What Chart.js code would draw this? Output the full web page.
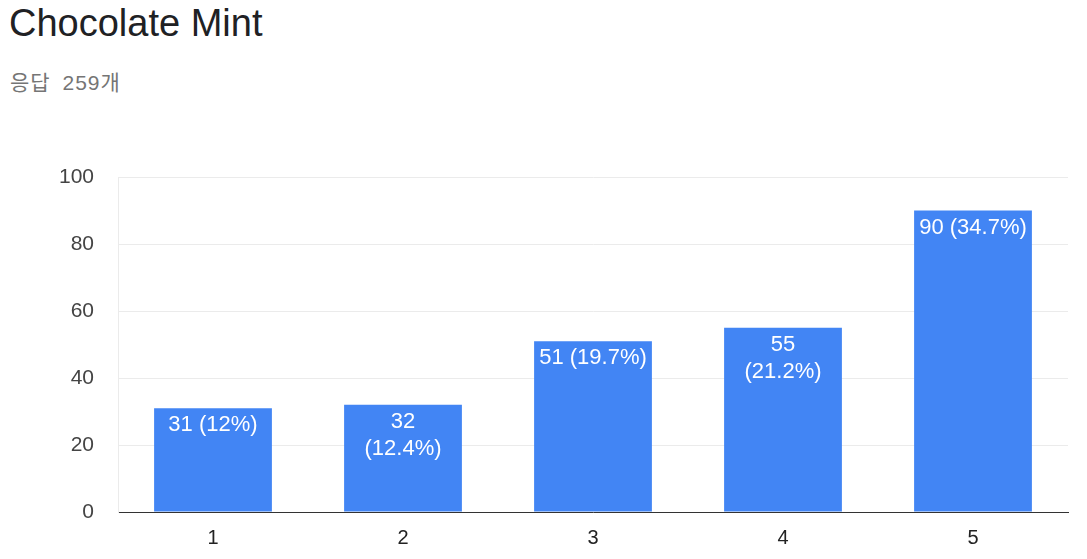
<!DOCTYPE html>
<html>
<head>
<meta charset="utf-8">
<script src="https://cdn.jsdelivr.net/npm/chart.js@4"></script>
<style>
  body { margin: 0; background: #fff; width: 1087px; height: 559px; overflow: hidden; position: relative; }
  #title { position: absolute; left: 9px; top: 5px; line-height: 36px; font-family: "Liberation Sans", Arial, sans-serif; font-size: 38px; color: #202124; }
  #sub { position: absolute; left: 10px; top: 70px; line-height: 26px; font-family: "Liberation Sans", "Noto Sans CJK KR", sans-serif; font-size: 21px; letter-spacing: 1px; word-spacing: 5px; color: #757575; }
  #wrap { position: absolute; left: 0; top: 0; width: 1087px; height: 559px; }
</style>
</head>
<body>
<div id="title">Chocolate Mint</div>
<div id="sub">응답 259개</div>
<div id="wrap"><canvas id="myChart"></canvas></div>
<script>
// answers 1..5 and their counts
const categories = ['1', '2', '3', '4', '5'];
const counts = [31, 32, 51, 55, 90];
// label text inside each bar (some wrap to two lines like the original)
const barLabels = [
    ['31 (12%)'],
    ['32', '(12.4%)'],
    ['51 (19.7%)'],
    ['55', '(21.2%)'],
    ['90 (34.7%)']
];
const yTicks = [0, 20, 40, 60, 80, 100];

const insideLabels = {
    id: 'insideLabels',
    afterDatasetsDraw(chart) {
        const ctx = chart.ctx;
        const meta = chart.getDatasetMeta(0);
        ctx.save();
        ctx.fillStyle = '#ffffff';
        ctx.font = '22px "Liberation Sans", Arial, sans-serif';
        ctx.textAlign = 'center';
        ctx.textBaseline = 'middle';
        meta.data.forEach((bar, i) => {
            barLabels[i].forEach((line, j) => {
                ctx.fillText(line, bar.x, bar.y + 17 + j * 27);
            });
        });
        ctx.restore();
    }
};

const data = {
    labels: categories,
    datasets: [{
        data: counts,
        backgroundColor: '#4285f4',
        borderWidth: 0,
        categoryPercentage: 0.62,
        barPercentage: 1.0
    }]
};

const config = {
    type: 'bar',
    data: data,
    options: {
        responsive: false,
        animation: false,
        layout: { padding: { top: 177, right: 19, bottom: 0, left: 0 } },
        plugins: {
            legend: { display: false },
            tooltip: { enabled: false }
        },
        scales: {
            x: {
                grid: { display: false },
                border: { color: '#333333', width: 1 },
                ticks: {
                    color: '#222222',
                    font: { family: '"Liberation Sans", Arial, sans-serif', size: 20 },
                    padding: 6
                },
                afterFit(scale) { scale.height = 47; }
            },
            y: {
                min: 0,
                max: 100,
                afterBuildTicks(scale) { scale.ticks = yTicks.map(v => ({ value: v })); },
                grid: { color: '#ebebeb', drawTicks: false },
                border: { color: '#ebebeb' },
                ticks: {
                    color: '#444444',
                    font: { family: '"Liberation Sans", Arial, sans-serif', size: 21 },
                    padding: 24
                },
                afterFit(scale) { scale.width = 118; }
            }
        }
    },
    plugins: [insideLabels]
};

const canvas = document.getElementById('myChart');
canvas.width = 1087;
canvas.height = 559;
const chart = new Chart(canvas, config);
</script>
</body>
</html>
